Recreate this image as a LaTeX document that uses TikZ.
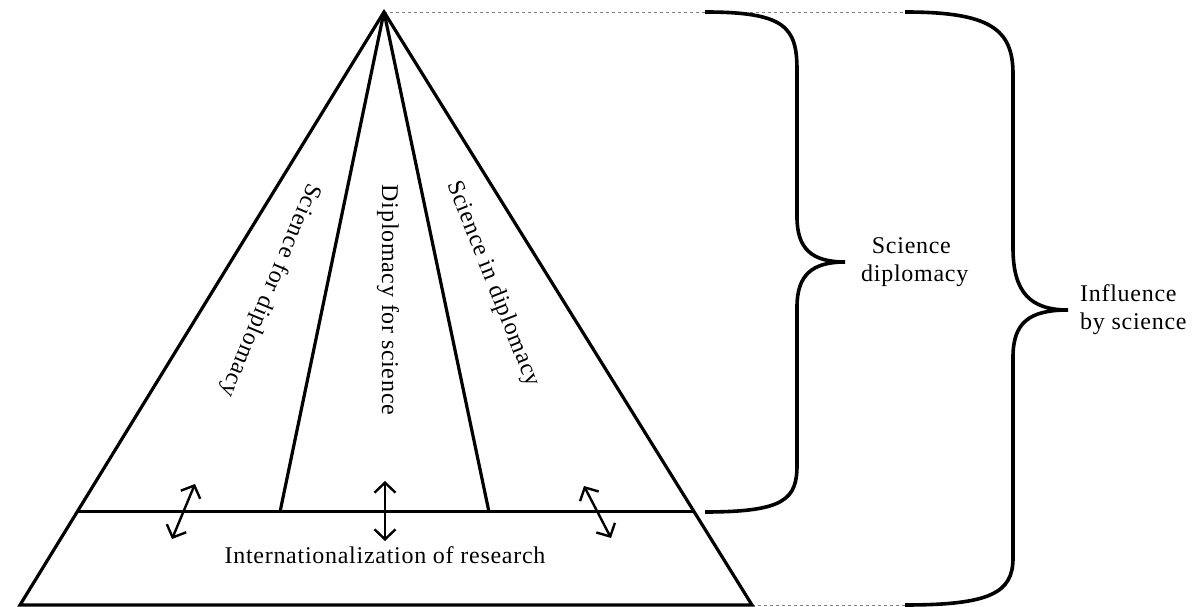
\documentclass[tikz,border=0pt]{standalone}
\usepackage{fontspec}
\setmainfont[LetterSpace=3]{Liberation Serif}
\usetikzlibrary{positioning, arrows.meta, calc}

\begin{document}
\begin{tikzpicture}[x=1pt, y=1pt, >={Straight Barb[length=10pt, width=21pt, line width=2.4pt]},
        edge/.style={line width=3.2pt},
        guide/.style={gray, dashed, line width=0.9pt},
        brc/.style={line width=3.6pt},
        lbl/.style={font=\fontsize{24}{28}\selectfont, inner sep=0pt},
        twoway/.style={<->, line width=2.4pt}]
    \useasboundingbox (0,0) rectangle (1192,607);

    \coordinate (apex) at (384,595);
    \coordinate (bl) at (20,2);
    \coordinate (br) at (752,2);
    \coordinate (ml) at ($(apex)!0.843!(bl)$);
    \coordinate (mr) at ($(apex)!0.843!(br)$);
    \coordinate (il) at (280,95);
    \coordinate (ir) at (489,95);

    % dashed guides to the braces
    \coordinate (gtop) at (905,595);
    \coordinate (gbot) at (905,2);
    \draw[guide] (apex) -- (gtop);
    \draw[guide] (br) -- (gbot);

    % pyramid
    \draw[edge, line join=miter] (apex) -- (bl) -- (br) -- cycle;
    \draw[edge] (ml) -- (mr);
    \draw[edge] (apex) -- (il);
    \draw[edge] (apex) -- (ir);

    % labels in the pyramid
    \node[lbl, rotate=-112.5] (sfd) at (270,317) {Science for diplomacy};
    \node[lbl, rotate=-90] (dfs) at (388,307) {Diplomacy for science};
    \node[lbl, rotate=-68.5] (sid) at (493,323) {Science in diplomacy};
    \node[lbl] (intl) at (385,52) {Internationalization of research};

    % two-way arrows
    \coordinate (a1s) at (172,68);  \coordinate (a1e) at (195,123);
    \coordinate (a2s) at (385,66);  \coordinate (a2e) at (385,126);
    \coordinate (a3s) at (611,69);  \coordinate (a3e) at (584,121);
    \draw[twoway] (a1s) -- (a1e);
    \draw[twoway] (a2s) -- (a2e);
    \draw[twoway] (a3s) -- (a3e);

    % brace: science diplomacy
    \coordinate (b1top) at (705,595);
    \coordinate (b1tip) at (845,345);
    \coordinate (b1bot) at (705,95);
    \draw[brc] (b1top) .. controls (785,595) and (797,580) .. (797,537)
        -- (797,390) .. controls (797,358) and (812,345) .. (b1tip)
        .. controls (812,345) and (797,332) .. (797,300)
        -- (797,142) .. controls (797,108) and (785,95) .. (b1bot);
    \node[lbl, anchor=west, align=left] (sd) at (861,345) {\ \,Science\\diplomacy};

    % brace: influence by science
    \coordinate (b2top) at (gtop);
    \coordinate (b2tip) at (1068,297);
    \coordinate (b2bot) at (gbot);
    \draw[brc] (b2top) .. controls (990,595) and (1013,578) .. (1013,533)
        -- (1013,359) .. controls (1013,315) and (1030,297) .. (b2tip)
        .. controls (1030,297) and (1013,285) .. (1013,250)
        -- (1013,49) .. controls (1013,14) and (990,2) .. (b2bot);
    \node[lbl, anchor=west, align=left] (ibs) at (1080,297) {Influence\\by science};
\end{tikzpicture}
\end{document}
